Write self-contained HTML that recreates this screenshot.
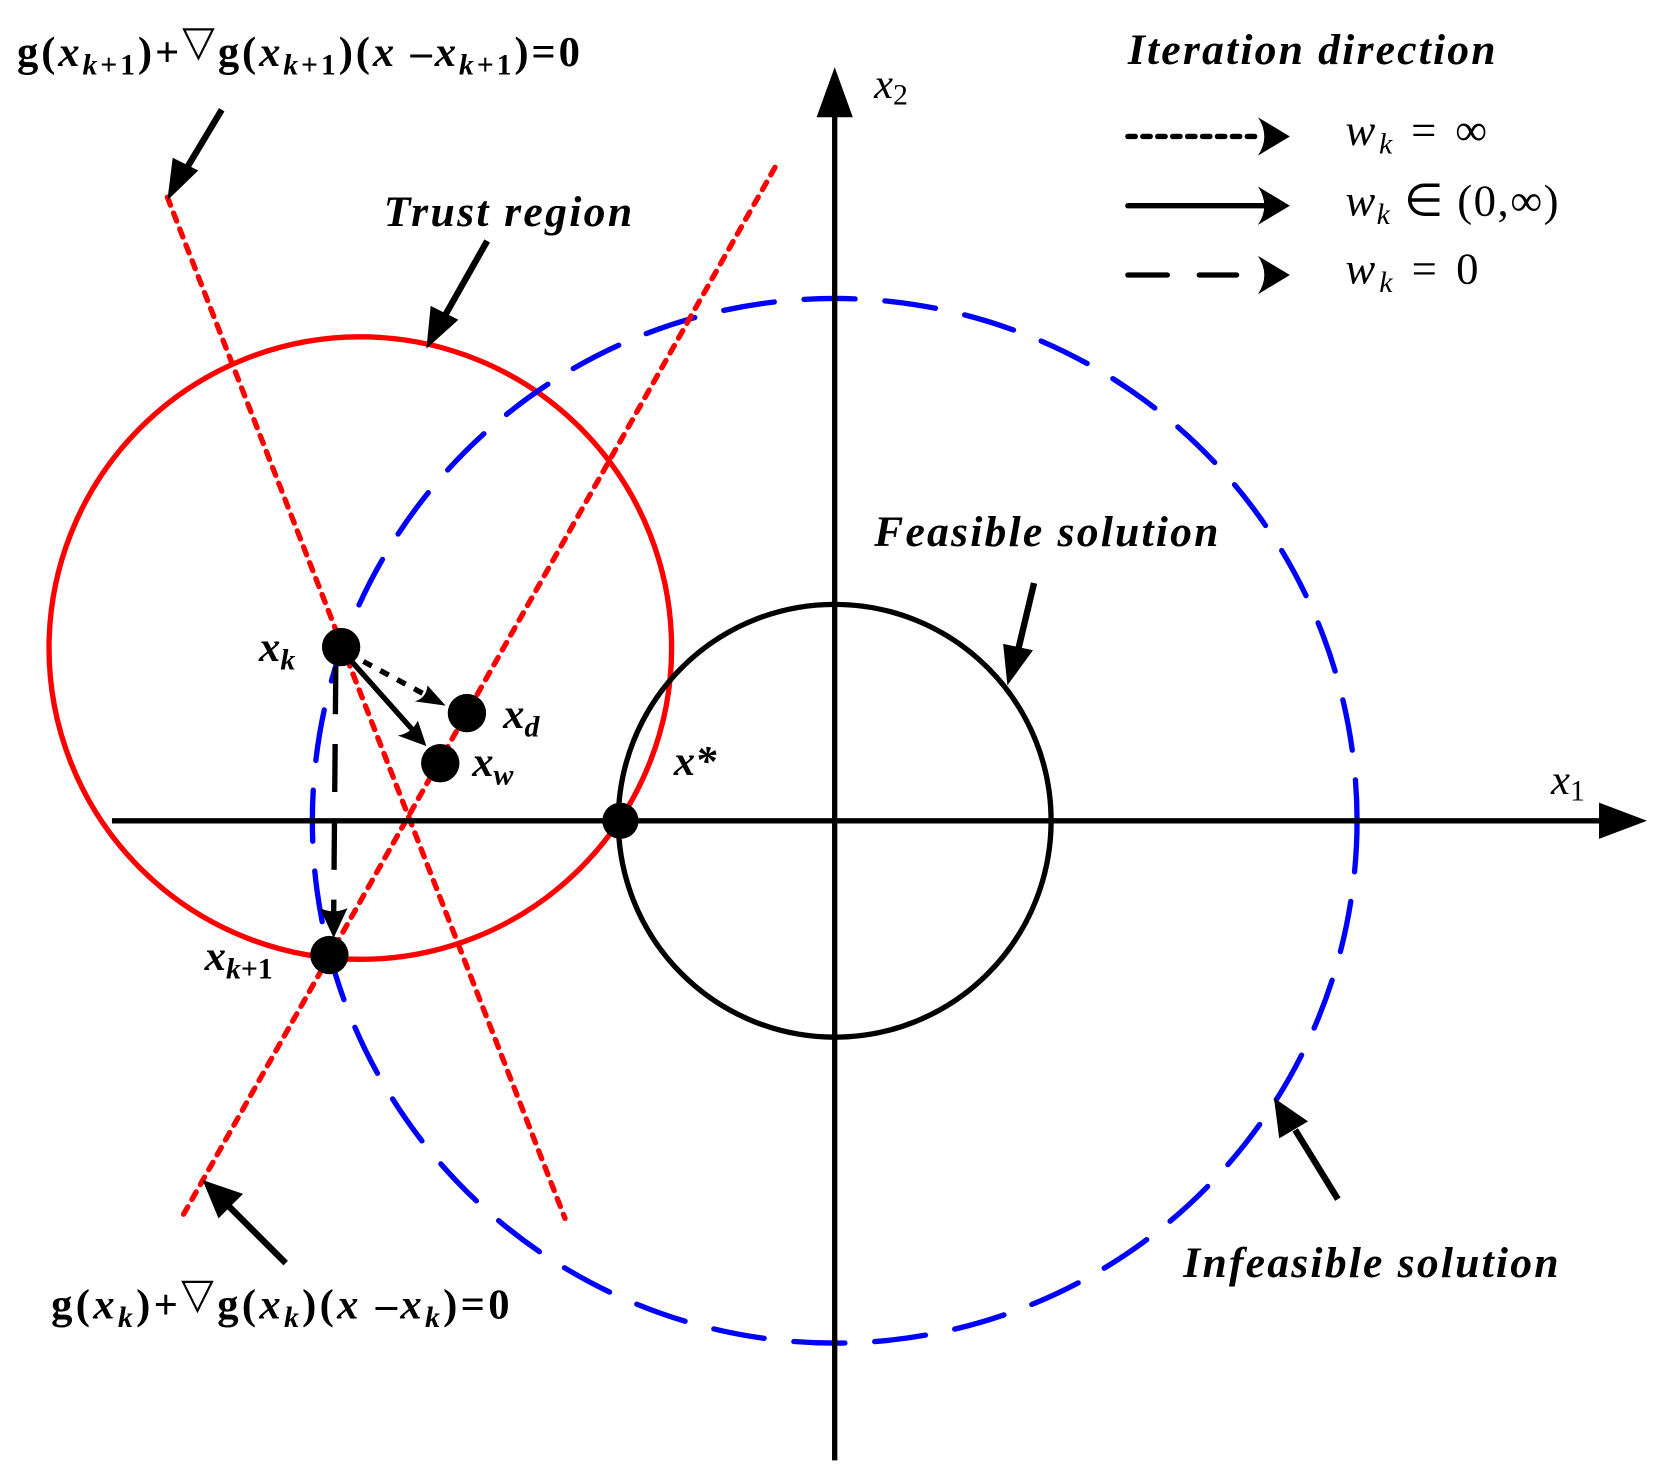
<!DOCTYPE html>
<html><head><meta charset="utf-8"><style>
html,body{margin:0;padding:0;background:#fff;}
svg{display:block;}
text{font-family:"Liberation Serif",serif;}
.b{font-weight:bold;}
.bi{font-weight:bold;font-style:italic;}
</style></head><body>
<svg width="1663" height="1471" viewBox="0 0 1560 1380" preserveAspectRatio="none" xmlns="http://www.w3.org/2000/svg">
<!-- circles -->
<circle cx="338" cy="608" r="292" fill="none" stroke="#f00" stroke-width="5"/>
<circle cx="783" cy="770" r="490" fill="none" stroke="#00f" stroke-width="5" stroke-dasharray="48 28" stroke-linecap="round"/>
<circle cx="783" cy="770" r="203" fill="none" stroke="#000" stroke-width="5"/>
<!-- red dotted lines -->
<line x1="157" y1="185" x2="530" y2="1143" stroke="#f00" stroke-width="5" stroke-dasharray="8 8" stroke-linecap="round"/>
<line x1="727" y1="157" x2="170" y2="1143" stroke="#f00" stroke-width="5" stroke-dasharray="8 8" stroke-linecap="round"/>
<!-- axes -->
<line x1="105" y1="770" x2="1505" y2="770" stroke="#000" stroke-width="5"/>
<polygon points="1500,753 1545,770 1500,787" fill="#000"/>
<line x1="783" y1="1370" x2="783" y2="100" stroke="#000" stroke-width="5"/>
<polygon points="766,110 783,63 800,110" fill="#000"/>
<!-- label arrows -->
<g stroke="#000" stroke-width="6" fill="#000">
<line x1="208" y1="103" x2="175" y2="158"/><polygon points="157,188 162,148 186,160" stroke="none"/>
<line x1="457" y1="226" x2="418" y2="295"/><polygon points="400,327 404,287 430,300" stroke="none"/>
<line x1="970" y1="547" x2="955" y2="610"/><polygon points="945,643 941,604 969,610" stroke="none"/>
<line x1="1255" y1="1125" x2="1215" y2="1060"/><polygon points="1195,1030 1200,1068 1227,1052" stroke="none"/>
<line x1="268" y1="1185" x2="215" y2="1132"/><polygon points="190,1107 228,1120 205,1143" stroke="none"/>
</g>
<!-- iteration arrows -->
<line x1="325" y1="612" x2="405" y2="655" stroke="#000" stroke-width="5" stroke-dasharray="9 9"/>
<path d="M418,662 L389,658 Q400,655 401,643 Z" fill="#000"/>
<line x1="325" y1="615" x2="390" y2="688" stroke="#000" stroke-width="5"/>
<path d="M400,700 L373,690 Q386,688 392,676 Z" fill="#000"/>
<line x1="315" y1="625" x2="313" y2="860" stroke="#000" stroke-width="5" stroke-dasharray="45 28"/>
<path d="M313,880 L300,852 Q313,858 326,852 Z" fill="#000"/>
<!-- points -->
<g fill="#000">
<circle cx="320" cy="607" r="18"/>
<circle cx="438" cy="669" r="18"/>
<circle cx="413" cy="716" r="18"/>
<circle cx="309" cy="896" r="18"/>
<circle cx="582" cy="770" r="17"/>
</g>
<!-- legend -->
<line x1="1058" y1="128" x2="1180" y2="128" stroke="#000" stroke-width="5" stroke-dasharray="7 7" stroke-linecap="round"/>
<line x1="1058" y1="193" x2="1185" y2="193" stroke="#000" stroke-width="5" stroke-linecap="round"/>
<line x1="1058" y1="258" x2="1095" y2="258" stroke="#000" stroke-width="5" stroke-linecap="round"/>
<line x1="1125" y1="258" x2="1160" y2="258" stroke="#000" stroke-width="5" stroke-linecap="round"/>
<g fill="#000">
<path d="M1210,128 L1180,110 Q1192,128 1180,146 Z"/>
<path d="M1210,193 L1180,175 Q1192,193 1180,211 Z"/>
<path d="M1210,258 L1180,240 Q1192,258 1180,276 Z"/>
</g>
<g font-size="42">
<text x="1262" y="136" textLength="133"><tspan font-style="italic">w</tspan><tspan font-style="italic" font-size="28" dy="8">k</tspan><tspan dy="-8"> = ∞</tspan></text>
<text x="1262" y="202" textLength="200"><tspan font-style="italic">w</tspan><tspan font-style="italic" font-size="28" dy="8">k</tspan><tspan dy="-8"> ∈ (0,∞)</tspan></text>
<text x="1262" y="266" textLength="125"><tspan font-style="italic">w</tspan><tspan font-style="italic" font-size="28" dy="8">k</tspan><tspan dy="-8"> = 0</tspan></text>
</g>
<!-- titles -->
<text x="1058" y="60" class="bi" font-size="41" textLength="345">Iteration direction</text>
<text x="360" y="212" class="bi" font-size="41" textLength="233">Trust region</text>
<text x="820" y="512" class="bi" font-size="41" textLength="323">Feasible solution</text>
<text x="1110" y="1198" class="bi" font-size="41" textLength="352">Infeasible solution</text>
<!-- formulas -->
<text x="16" y="62" class="b" font-size="40" textLength="528">g(<tspan font-style="italic">x</tspan><tspan font-size="28" dy="8"><tspan font-style="italic">k</tspan>+1</tspan><tspan dy="-8">)+</tspan><tspan font-weight="normal" dy="-10">▽</tspan><tspan dy="10">g(</tspan><tspan font-style="italic">x</tspan><tspan font-size="28" dy="8"><tspan font-style="italic">k</tspan>+1</tspan><tspan dy="-8">)(</tspan><tspan font-style="italic">x</tspan> –<tspan font-style="italic">x</tspan><tspan font-size="28" dy="8"><tspan font-style="italic">k</tspan>+1</tspan><tspan dy="-8">)=0</tspan></text>
<text x="48" y="1237" class="b" font-size="40" textLength="430">g(<tspan font-style="italic">x</tspan><tspan font-size="28" dy="8" font-style="italic">k</tspan><tspan dy="-8">)+</tspan><tspan font-weight="normal" dy="-10">▽</tspan><tspan dy="10">g(</tspan><tspan font-style="italic">x</tspan><tspan font-size="28" dy="8" font-style="italic">k</tspan><tspan dy="-8">)(</tspan><tspan font-style="italic">x</tspan> –<tspan font-style="italic">x</tspan><tspan font-size="28" dy="8" font-style="italic">k</tspan><tspan dy="-8">)=0</tspan></text>
<!-- point labels -->
<g font-size="40" class="bi">
<text x="243" y="620">x<tspan font-size="28" dy="8">k</tspan></text>
<text x="472" y="683">x<tspan font-size="28" dy="8">d</tspan></text>
<text x="443" y="728">x<tspan font-size="28" dy="8">w</tspan></text>
<text x="192" y="910">x<tspan font-size="28" dy="8" font-style="italic">k</tspan><tspan font-size="28" font-style="normal">+1</tspan></text>
<text x="632" y="727">x*</text>
</g>
<text x="820" y="92" font-size="40" font-style="italic">x<tspan font-style="normal" font-size="28" dy="6">2</tspan></text>
<text x="1455" y="745" font-size="40" font-style="italic">x<tspan font-style="normal" font-size="28" dy="6">1</tspan></text>
</svg>
</body></html>
